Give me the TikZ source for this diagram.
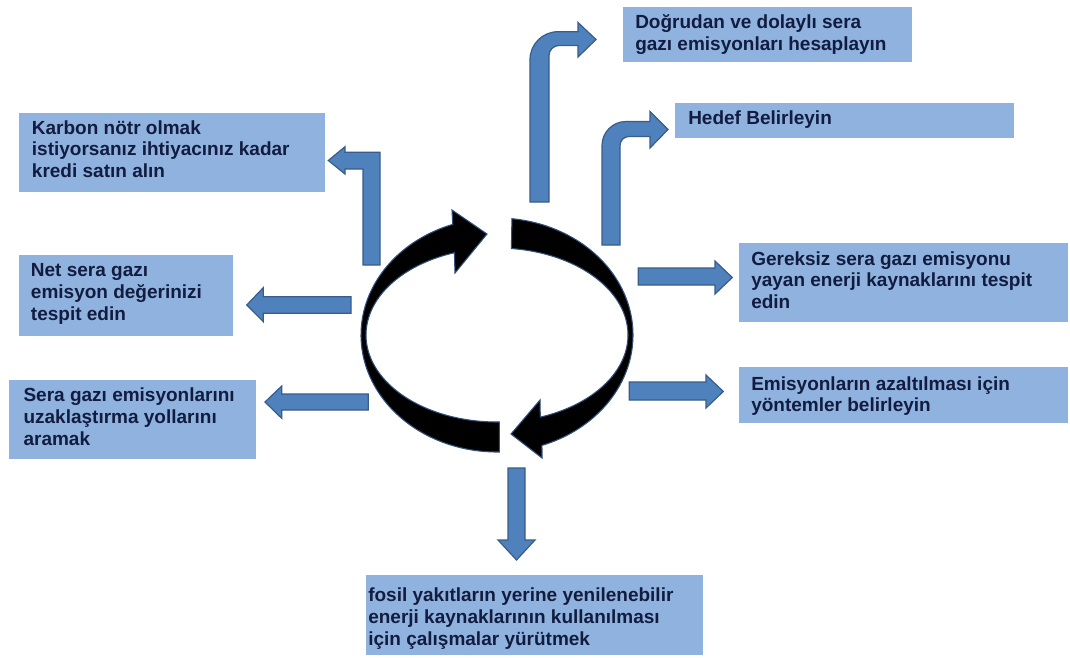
\documentclass[tikz,border=0pt]{standalone}
\usepackage{fontspec}
\setmainfont{Liberation Sans}
\definecolor{boxfill}{RGB}{143,179,222}
\definecolor{arrfill}{RGB}{79,129,189}
\definecolor{arrdraw}{RGB}{56,93,138}
\definecolor{txtcol}{RGB}{18,28,64}
\definecolor{ringedge}{RGB}{50,80,125}
\newcommand{\boxtxt}[1]{\parbox[t]{330pt}{\raggedright #1}}
\begin{document}
\begin{tikzpicture}[x=0.75pt,y=-0.75pt,
  box/.style={fill=boxfill},
  blk/.style={fill=arrfill, draw=arrdraw, line width=0.9pt, line join=miter},
  ring/.style={fill=black, draw=ringedge, line width=0.8pt, line join=miter},
  lbl/.style={anchor=base west, inner sep=0pt, text=txtcol,
    font=\fontsize{14.25pt}{16.3pt}\selectfont\bfseries}]
\useasboundingbox (0,0) rectangle (1070,657);
\fill[white] (0,0) rectangle (1070,657);

% boxes
\fill[box] (623,7) rectangle (912,62);
\fill[box] (675,103) rectangle (1014,138);
\fill[box] (19,113) rectangle (325,192);
\fill[box] (19,255) rectangle (233,336);
\fill[box] (9,380) rectangle (256,459);
\fill[box] (739,243) rectangle (1068,322);
\fill[box] (739,367) rectangle (1068,423);
\fill[box] (366,575) rectangle (703,655);

% texts
\node[lbl] (t1) at (635,28.5) {\boxtxt{Doğrudan ve dolaylı sera\\gazı emisyonları hesaplayın}};
\node[lbl] (t2) at (688,124) {Hedef Belirleyin};
\node[lbl] (t3) at (31.7,134) {\boxtxt{Karbon nötr olmak\\istiyorsanız ihtiyacınız kadar\\kredi satın alın}};
\node[lbl] (t4) at (30.7,276.7) {\boxtxt{Net sera gazı\\emisyon değerinizi\\tespit edin}};
\node[lbl] (t5) at (23.3,401.7) {\boxtxt{Sera gazı emisyonlarını\\uzaklaştırma yollarını\\aramak}};
\node[lbl] (t6) at (751,265) {\boxtxt{Gereksiz sera gazı emisyonu\\yayan enerji kaynaklarını tespit\\edin}};
\node[lbl] (t7) at (751,390) {\boxtxt{Emisyonların azaltılması için\\yöntemler belirleyin}};
\node[lbl] (t8) at (368,601.7) {\boxtxt{fosil yakıtların yerine yenilenebilir\\enerji kaynaklarının kullanılması\\için çalışmalar yürütmek}};

% block arrows
\draw[blk] (530,202) -- (530,59.7) .. controls (530,44.2) and (542.5,31.7) .. (558,31.7)
  -- (578,31.7) -- (578,22.5) -- (596,39.5) -- (578,57) -- (578,45.5) -- (559,45.5)
  .. controls (553.5,45.5) and (549,50) .. (549,55.5) -- (549,202) -- cycle;
\draw[blk] (602,245) -- (602,145.5) .. controls (602,132.25) and (612.75,121.5) .. (626,121.5)
  -- (650,121.5) -- (650,111.5) -- (668,129.5) -- (650,148) -- (650,136.5) -- (629,136.5)
  .. controls (624,136.5) and (620,140.5) .. (620,145.5) -- (620,245) -- cycle;
\draw[blk] (363,265) -- (363,169) -- (345,169) -- (345,174) -- (328.3,160.5) -- (345,146.7)
  -- (345,152.3) -- (380,152.3) -- (380,265) -- cycle;
\draw[blk] (351,296.7) -- (263.3,296.7) -- (263.3,287.7) -- (246.7,305) -- (263.3,321.7)
  -- (263.3,313.3) -- (351,313.3) -- cycle;
\draw[blk] (368.3,394) -- (281.7,394) -- (281.7,386) -- (265,402) -- (281.7,418.3)
  -- (281.7,410) -- (368.3,410) -- cycle;
\draw[blk] (638.3,268) -- (715,268) -- (715,261) -- (732.3,277.5) -- (715,294)
  -- (715,285) -- (638.3,285) -- cycle;
\draw[blk] (629.3,382) -- (706,382) -- (706,375) -- (723.3,391.5) -- (706,408)
  -- (706,400) -- (629.3,400) -- cycle;
\draw[blk] (508,468) -- (508,540) -- (498,540) -- (516.5,560) -- (535,540) -- (525,540)
  -- (525,468) -- cycle;

% central circular arrows
\draw[ring] plot[domain=89:251,samples=80] ({497+136*cos(\x)},{335+117*sin(\x)})
  -- (452,210) -- (487,234) -- (455,273)
  -- plot[domain=251:89,samples=80] ({497+131*cos(\x)},{335+87*sin(\x)}) -- cycle;
\draw[ring] plot[domain=276.3:430.7,samples=80] ({497+136*cos(\x)},{335+117*sin(\x)})
  -- (542,458) -- (511,434) -- (540,400)
  -- plot[domain=430.7:276.3,samples=80] ({497+131*cos(\x)},{335+87*sin(\x)}) -- cycle;
\end{tikzpicture}
\end{document}
